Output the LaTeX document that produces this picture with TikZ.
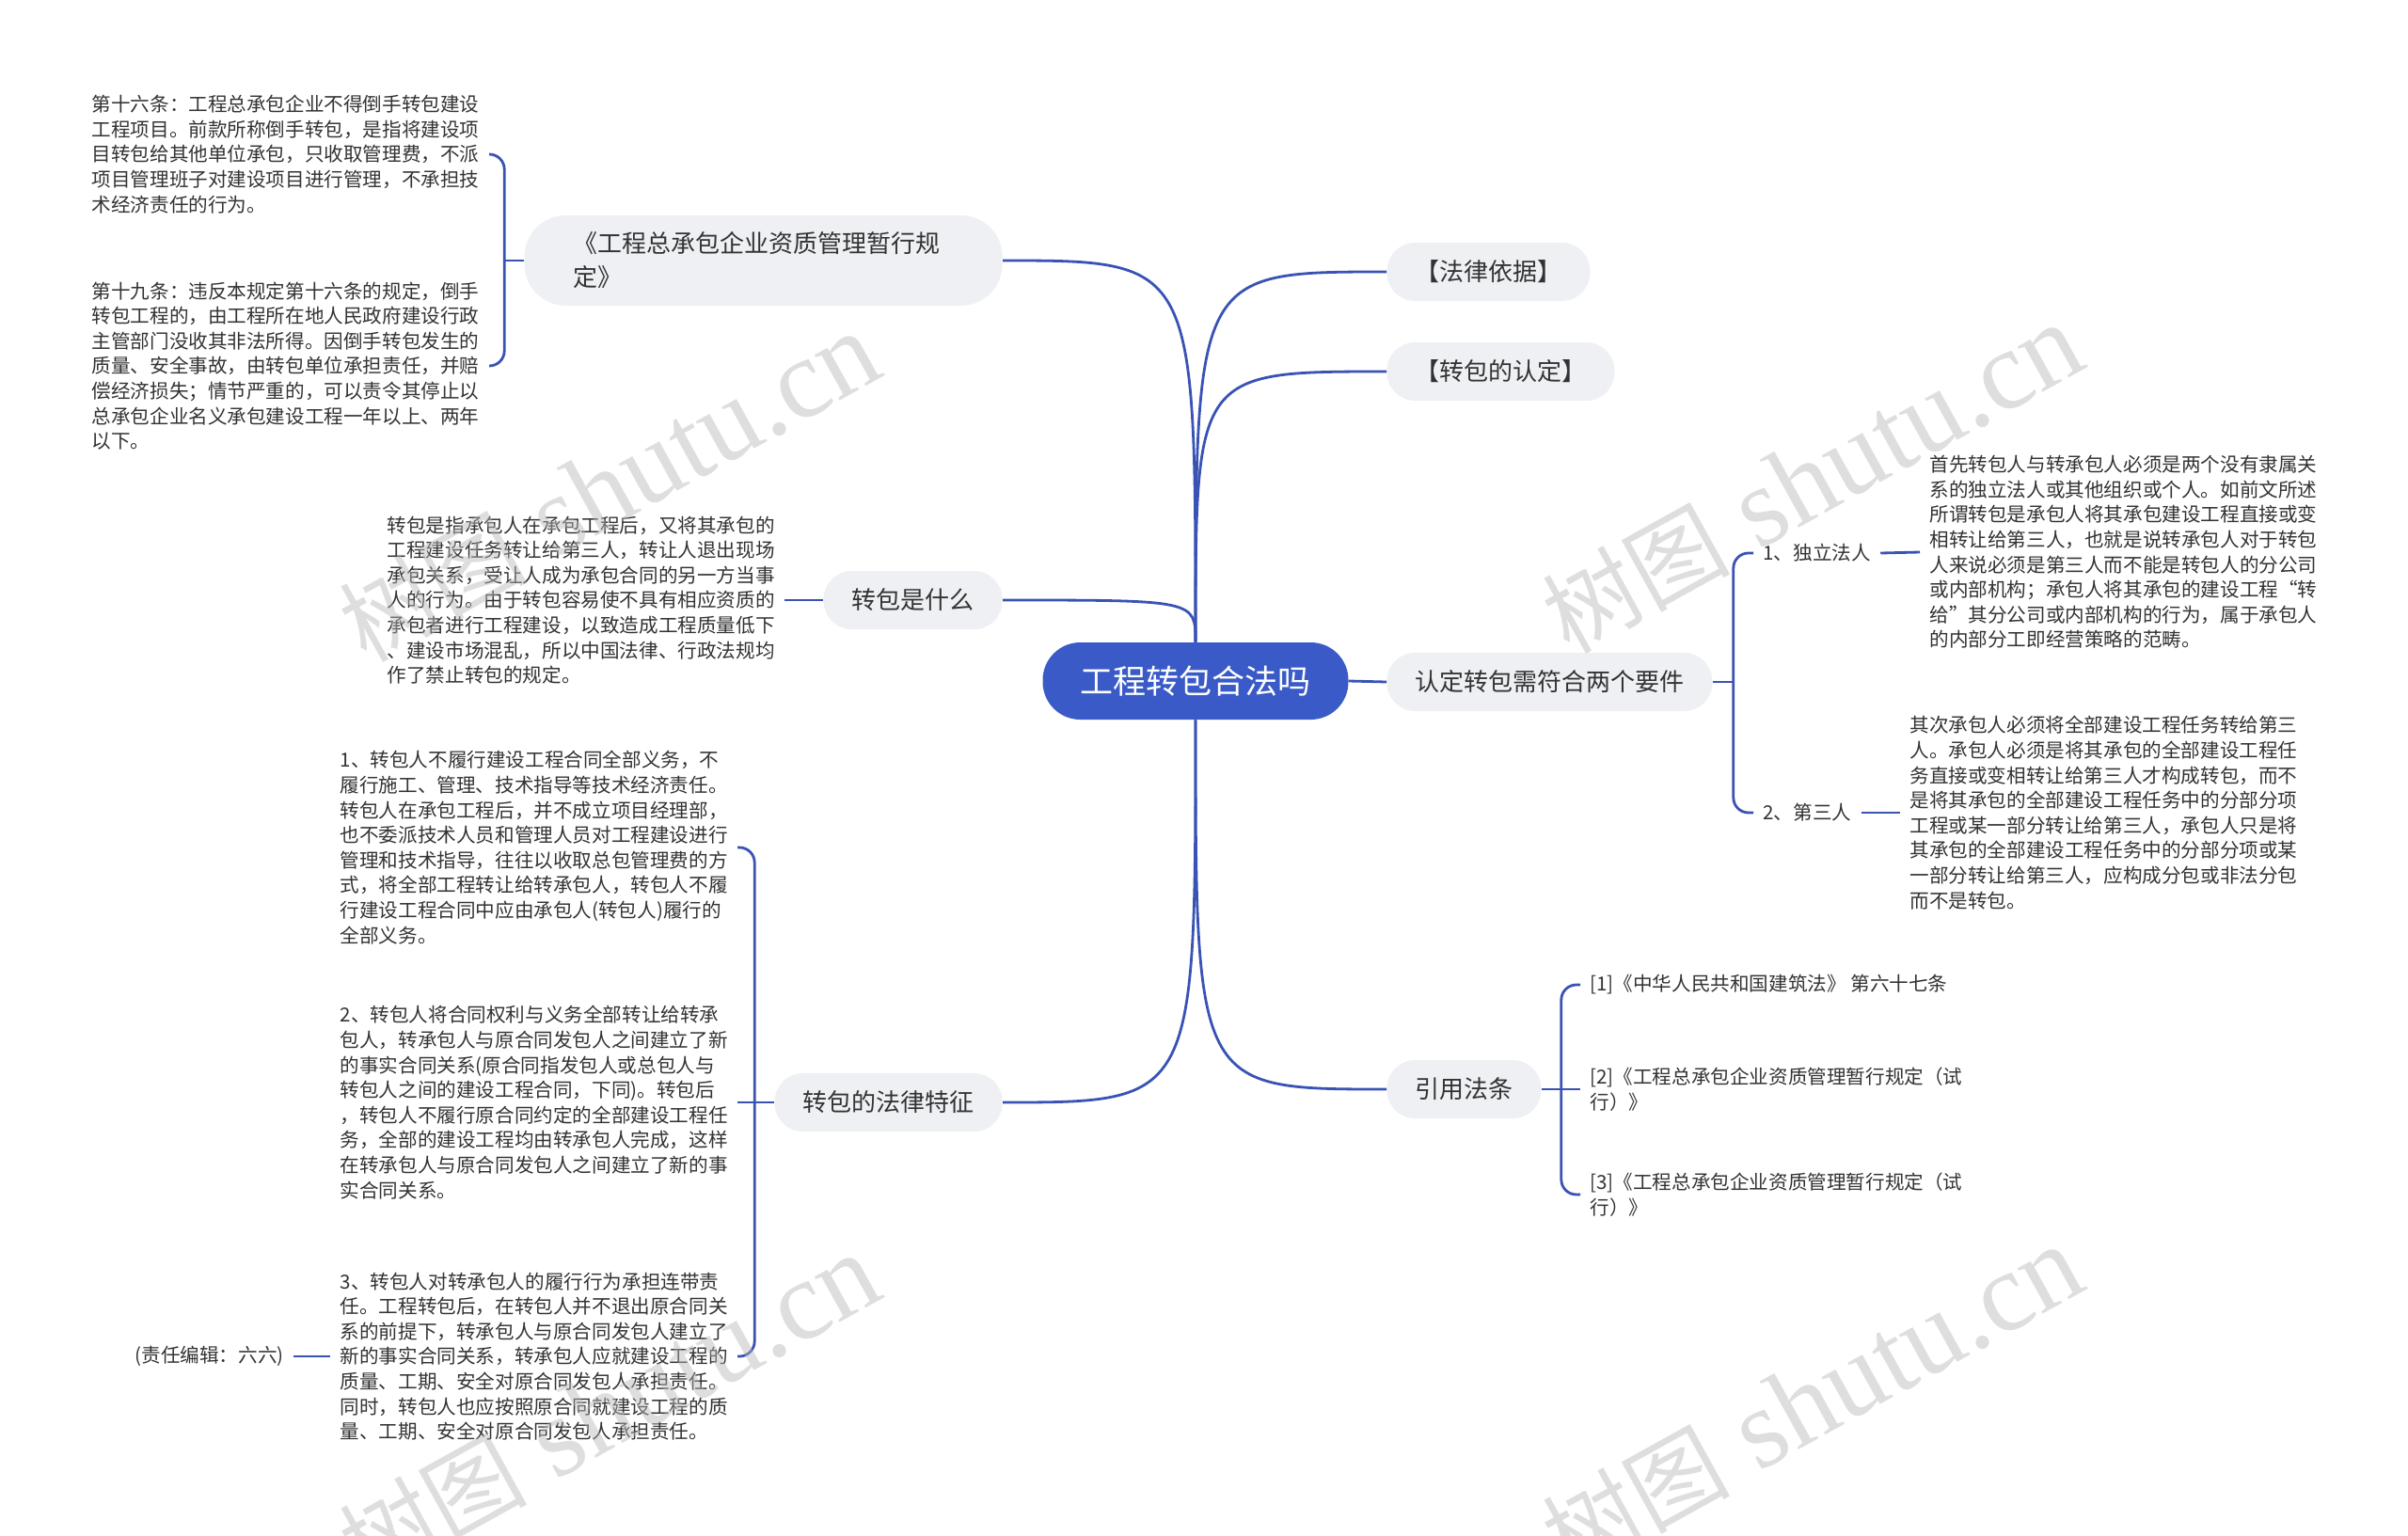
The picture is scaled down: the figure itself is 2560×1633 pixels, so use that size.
\documentclass[tikz,border=0pt]{standalone}
\usepackage{fontspec}
\setmainfont{Noto Sans CJK SC}
\newfontfamily\wmfont{Liberation Serif}

\definecolor{mapblue}{HTML}{3A5BC7}
\definecolor{linkblue}{HTML}{3953B5}
\definecolor{pillgray}{HTML}{EEF0F4}
\definecolor{ink}{HTML}{333333}
\newcommand\wmark{{\rmfamily\fontsize{50}{60}\selectfont 树图}\ shutu.cn}

\begin{document}
\begin{tikzpicture}[
  x=0.5pt,y=-0.5pt,
  root/.style={fill=mapblue,text=white,rounded corners=20pt,minimum height=41pt,
    inner xsep=20pt,font=\fontsize{17.5}{21}\selectfont},
  topic/.style={fill=pillgray,text=ink,rounded corners=15pt,minimum height=31pt,
    inner xsep=15pt,font=\fontsize{13}{18}\selectfont},
  note/.style={text=ink,align=left,inner xsep=5pt,inner ysep=2pt,
    font=\fontsize{10.3}{13.3}\selectfont},
  link/.style={linkblue,line width=1.4pt},
  bracket/.style={link,rounded corners=8pt},
  wm/.style={text=black!28,text opacity=.45,rotate=29,
    font=\wmfont\fontsize{60}{62}\selectfont},
]
  \fill[white] (0,0) rectangle (2560,1633);
  \useasboundingbox (0,0) rectangle (2560,1633);

  % centre and main topics
  \node[root] (root) at (1271,724) {工程转包合法吗};
  \node[topic,anchor=east,align=left,text width=202pt,inner xsep=26pt,
    minimum height=48pt,rounded corners=22pt] (regs) at (1066,277)
    {《工程总承包企业资质管理暂行规\\定》};
  \node[topic,anchor=east] (what) at (1066,638) {转包是什么};
  \node[topic,anchor=east] (feat) at (1066,1172) {转包的法律特征};
  \node[topic,anchor=west] (basis) at (1474,289) {【法律依据】};
  \node[topic,anchor=west] (ident) at (1474,395) {【转包的认定】};
  \node[topic,anchor=west] (req) at (1474,725) {认定转包需符合两个要件};
  \node[topic,anchor=west] (cite) at (1474,1158) {引用法条};

  % left notes
  \node[note,anchor=east] (a16) at (520,164) {第十六条：工程总承包企业不得倒手转包建设\\
    工程项目。前款所称倒手转包，是指将建设项\\
    目转包给其他单位承包，只收取管理费，不派\\
    项目管理班子对建设项目进行管理，不承担技\\
    术经济责任的行为。};
  \node[note,anchor=east] (b19) at (520,389) {第十九条：违反本规定第十六条的规定，倒手\\
    转包工程的，由工程所在地人民政府建设行政\\
    主管部门没收其非法所得。因倒手转包发生的\\
    质量、安全事故，由转包单位承担责任，并赔\\
    偿经济损失；情节严重的，可以责令其停止以\\
    总承包企业名义承包建设工程一年以上、两年\\
    以下。};
  \node[note,anchor=east] (cwhat) at (834,638) {转包是指承包人在承包工程后，又将其承包的\\
    工程建设任务转让给第三人，转让人退出现场\\
    承包关系，受让人成为承包合同的另一方当事\\
    人的行为。由于转包容易使不具有相应资质的\\
    承包者进行工程建设，以致造成工程质量低下\\
    、建设市场混乱，所以中国法律、行政法规均\\
    作了禁止转包的规定。};
  \node[note,anchor=east] (d1) at (784,901) {1、转包人不履行建设工程合同全部义务，不\\
    履行施工、管理、技术指导等技术经济责任。\\
    转包人在承包工程后，并不成立项目经理部，\\
    也不委派技术人员和管理人员对工程建设进行\\
    管理和技术指导，往往以收取总包管理费的方\\
    式，将全部工程转让给转承包人，转包人不履\\
    行建设工程合同中应由承包人(转包人)履行的\\
    全部义务。};
  \node[note,anchor=east] (e2) at (784,1172) {2、转包人将合同权利与义务全部转让给转承\\
    包人，转承包人与原合同发包人之间建立了新\\
    的事实合同关系(原合同指发包人或总包人与\\
    转包人之间的建设工程合同，下同)。转包后\\
    ，转包人不履行原合同约定的全部建设工程任\\
    务，全部的建设工程均由转承包人完成，这样\\
    在转承包人与原合同发包人之间建立了新的事\\
    实合同关系。};
  \node[note,anchor=east] (f3) at (784,1442) {3、转包人对转承包人的履行行为承担连带责\\
    任。工程转包后，在转包人并不退出原合同关\\
    系的前提下，转承包人与原合同发包人建立了\\
    新的事实合同关系，转承包人应就建设工程的\\
    质量、工期、安全对原合同发包人承担责任。\\
    同时，转包人也应按照原合同就建设工程的质\\
    量、工期、安全对原合同发包人承担责任。};
  \node[note,anchor=east] (editor) at (312,1442) {(责任编辑：六六)};

  % right notes
  \node[note,anchor=west] (indep) at (1864,588) {1、独立法人};
  \node[note,anchor=west] (third) at (1864,864) {2、第三人};
  \node[note,anchor=west] (hfirst) at (2041,587) {首先转包人与转承包人必须是两个没有隶属关\\
    系的独立法人或其他组织或个人。如前文所述\\
    所谓转包是承包人将其承包建设工程直接或变\\
    相转让给第三人，也就是说转承包人对于转包\\
    人来说必须是第三人而不能是转包人的分公司\\
    或内部机构；承包人将其承包的建设工程“转\\
    给”其分公司或内部机构的行为，属于承包人\\
    的内部分工即经营策略的范畴。};
  \node[note,anchor=west] (isecond) at (2020,864) {其次承包人必须将全部建设工程任务转给第三\\
    人。承包人必须是将其承包的全部建设工程任\\
    务直接或变相转让给第三人才构成转包，而不\\
    是将其承包的全部建设工程任务中的分部分项\\
    工程或某一部分转让给第三人，承包人只是将\\
    其承包的全部建设工程任务中的分部分项或某\\
    一部分转让给第三人，应构成分包或非法分包\\
    而不是转包。};
  \node[note,anchor=west] (law1) at (1680,1047) {[1]《中华人民共和国建筑法》 第六十七条};
  \node[note,anchor=west] (law2) at (1680,1158) {[2]《工程总承包企业资质管理暂行规定（试\\行）》};
  \node[note,anchor=west] (law3) at (1680,1270) {[3]《工程总承包企业资质管理暂行规定（试\\行）》};

  % links from the centre
  \foreach \n in {regs,what}
    \draw[link] (root.north) .. controls (root.north |- \n.east) and (root.north |- \n.east) .. (\n.east);
  \foreach \n in {basis,ident}
    \draw[link] (root.north) .. controls (root.north |- \n.west) and (root.north |- \n.west) .. (\n.west);
  \draw[link] (root.south) .. controls (root.south |- feat.east) and (root.south |- feat.east) .. (feat.east);
  \draw[link] (root.south) .. controls (root.south |- cite.west) and (root.south |- cite.west) .. (cite.west);
  \draw[link] (root.east) -- (req.west);

  % sub branches
  \coordinate (regsj) at ([xshift=-10.5pt]regs.west);
  \coordinate (featj) at ([xshift=-10.5pt]feat.west);
  \coordinate (reqj) at ([xshift=11pt]req.east);
  \coordinate (citej) at ([xshift=10.5pt]cite.east);
  \draw[link] (regs.west) -- (regsj);
  \draw[bracket] (regsj) |- (a16.east);
  \draw[bracket] (regsj) |- (b19.east);
  \draw[link] (what.west) -- (cwhat.east);
  \draw[link] (feat.west) -- (featj);
  \draw[bracket] (featj) |- (d1.east);
  \draw[link] (featj) -- (e2.east);
  \draw[bracket] (featj) |- (f3.east);
  \draw[link] (f3.west) -- (editor.east);
  \draw[link] (req.east) -- (reqj);
  \draw[bracket] (reqj) |- (indep.west);
  \draw[bracket] (reqj) |- (third.west);
  \draw[link] (indep.east) -- (hfirst.west);
  \draw[link] (third.east) -- (isecond.west);
  \draw[link] (cite.east) -- (citej);
  \draw[bracket] (citej) |- (law1.west);
  \draw[link] (citej) -- (law2.west);
  \draw[bracket] (citej) |- (law3.west);

  % watermark
  \node[wm] (wm1) at (648,519) {\wmark};
  \node[wm] (wm2) at (1927,510) {\wmark};
  \node[wm] (wm3) at (648,1499) {\wmark};
  \node[wm] (wm4) at (1927,1490) {\wmark};
\end{tikzpicture}
\end{document}
